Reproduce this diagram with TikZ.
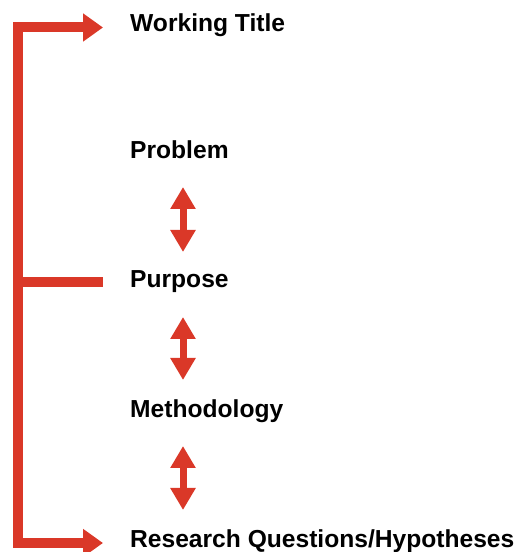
\documentclass[tikz,border=0pt]{standalone}
\usepackage{fontspec}
\setmainfont{Liberation Sans}
\usetikzlibrary{arrows.meta}

\definecolor{flowred}{RGB}{218,56,40}

\begin{document}
\begin{tikzpicture}[
    x=1pt, y=1pt,
    >={Triangle[length=20pt, width=27pt]},
    step label/.style={anchor=base west, inner sep=0pt, font=\fontsize{24.6}{28}\selectfont\bfseries},
    bracket/.style={draw=flowred, line width=10pt, line join=miter},
    updown/.style={draw=flowred, line width=7pt, {Triangle[length=22pt, width=24pt]}-{Triangle[length=22pt, width=24pt]}}
]
\useasboundingbox (0,0) rectangle (520,552);

% Section headings
\node[step label] (title) at (130,520) {Working Title};
\node[step label] (problem) at (130,393) {Problem};
\node[step label] (purpose) at (130,264) {Purpose};
\node[step label] (method) at (130,134) {Methodology};
\node[step label] (questions) at (130,5) {Research Questions/Hypotheses};

% Bracket ends
\coordinate (titletip) at (103,524.5);
\coordinate (purposeend) at (103,269.5);
\coordinate (questionstip) at (103,9);
\coordinate (spine) at (18,269.5);

% Left bracket with arrows
\draw[bracket, <->] (titletip) -- (18,524.5) -- (18,9) -- (questionstip);
\draw[bracket] (spine) -- (purposeend);

% Double arrows between the headings
\coordinate (a1) at (183,365);
\coordinate (a2) at (183,300);
\coordinate (b1) at (183,235);
\coordinate (b2) at (183,172);
\coordinate (c1) at (183,106);
\coordinate (c2) at (183,42);

\draw[updown] (a1) -- (a2);
\draw[updown] (b1) -- (b2);
\draw[updown] (c1) -- (c2);

\end{tikzpicture}
\end{document}
